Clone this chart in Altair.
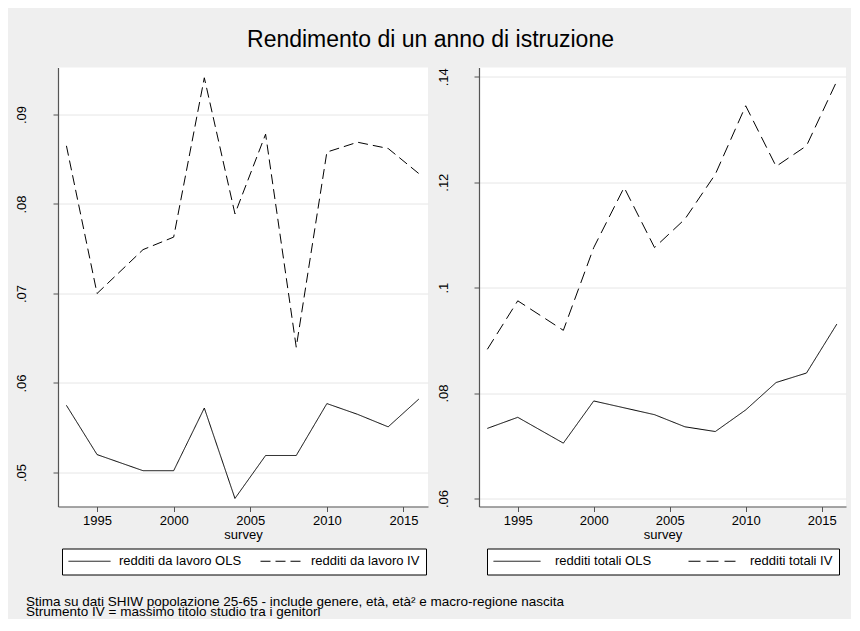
import altair as alt
import pandas as pd

years = [1993, 1995, 1998, 2000, 2002, 2004, 2006, 2008, 2010, 2012, 2014, 2016]
lavoro_ols = [0.0575, 0.0520, 0.0502, 0.0502, 0.0572, 0.0471, 0.0519, 0.0519, 0.0577, 0.0565, 0.0551, 0.0582]
lavoro_iv = [0.0865, 0.0700, 0.0749, 0.0763, 0.0941, 0.0789, 0.0878, 0.0640, 0.0858, 0.0869, 0.0862, 0.0834]
totali_ols = [0.0733, 0.0754, 0.0705, 0.0785, 0.0772, 0.0759, 0.0736, 0.0727, 0.0768, 0.0820, 0.0838, 0.0931]
totali_iv = [0.0883, 0.0975, 0.0919, 0.1076, 0.1190, 0.1076, 0.1130, 0.1215, 0.1345, 0.1230, 0.1269, 0.1392]

left_names = ["redditi da lavoro OLS", "redditi da lavoro IV"]
right_names = ["redditi totali OLS", "redditi totali IV"]
x_ticks = [1995, 2000, 2005, 2010, 2015]
left_ticks = [0.05, 0.06, 0.07, 0.08, 0.09]
right_ticks = [0.06, 0.08, 0.10, 0.12, 0.14]
title_text = "Rendimento di un anno di istruzione"
notes = [
    "Stima su dati SHIW popolazione 25-65 - include genere, età, età² e macro-regione nascita",
    "Strumento IV = massimo titolo studio tra i genitori",
]

FONT = "Liberation Sans"


def long_df(names, a, b):
    rows = []
    for n, vals in zip(names, [a, b]):
        for yr, v in zip(years, vals):
            rows.append({"survey": yr, "value": v, "series": n})
    return pd.DataFrame(rows)


df_left = long_df(left_names, lavoro_ols, lavoro_iv)
df_right = long_df(right_names, totali_ols, totali_iv)

label_expr = "substring(format(datum.value, '~r'), 1)"


def panel(df, names, ticks, ydomain, width, legend_kw, label_pad, dash):
    x = alt.X(
        "survey:Q",
        scale=alt.Scale(domain=[1992.45, 2016.6], nice=False, zero=False),
        axis=alt.Axis(values=x_ticks, format="d", grid=False, tickSize=5,
                      labelPadding=3, title="survey", titlePadding=1),
    )
    y = alt.Y(
        "value:Q",
        scale=alt.Scale(domain=ydomain, nice=False, zero=False),
        axis=alt.Axis(values=ticks, labelExpr=label_expr, title=None, grid=True,
                      tickSize=5, labelAngle=270, labelAlign="center",
                      labelBaseline="bottom", labelPadding=label_pad),
    )
    lines = alt.Chart(df).mark_line(color="black", strokeWidth=1).encode(
        x=x,
        y=y,
        strokeDash=alt.StrokeDash(
            "series:N",
            scale=alt.Scale(domain=names, range=[[1, 0], dash]),
            legend=alt.Legend(
                title=None, orient="none", direction="horizontal", columns=2,
                symbolType="stroke", symbolStrokeColor="black", symbolStrokeWidth=1,
                labelFontSize=13, labelFont=FONT, labelColor="black", labelLimit=400,
                strokeColor="black", fillColor="white", padding=6, clipHeight=13,
                **legend_kw,
            ),
        ),
        order="survey:Q",
    )
    return lines.properties(width=width, height=439)


left = panel(df_left, left_names, left_ticks, [0.0462, 0.09525], 370,
             dict(legendX=4, legendY=481, symbolSize=1764, labelOffset=8, columnPadding=18),
             25, [10, 5])
notes_layer = alt.Chart(pd.DataFrame({"t": [0]})).mark_text(
    align="left", baseline="alphabetic", fontSize=13.5, font=FONT, color="black",
    lineHeight=10.5, text=notes,
).encode(x=alt.value(-32), y=alt.value(538))
left = alt.layer(left, notes_layer)

right = panel(df_right, right_names, right_ticks, [0.05848, 0.14176], 367,
              dict(legendX=8, legendY=481, symbolSize=2209, labelOffset=14, columnPadding=36),
              24, [12, 6])

chart = alt.hconcat(left, right, spacing=51, bounds="flush").resolve_scale(
    strokeDash="independent"
).resolve_legend(strokeDash="independent").properties(
    title=alt.TitleParams(title_text, fontSize=23, font=FONT, fontWeight="normal",
                          color="black", anchor="middle", baseline="alphabetic", offset=-2),
    background="#efefef",
    padding={"left": 7, "top": 20.5, "right": 5, "bottom": 0},
).configure_view(stroke=None, fill="white").configure_axis(
    domainColor="#555555", tickColor="#555555", labelColor="black", titleColor="black",
    labelFont=FONT, titleFont=FONT, labelFontSize=13, titleFontSize=13,
    titleFontWeight="normal", gridColor="#e6e6e6", domainWidth=1.2,
)

chart.save("out.html", embed_options={"renderer": "svg", "actions": False})
